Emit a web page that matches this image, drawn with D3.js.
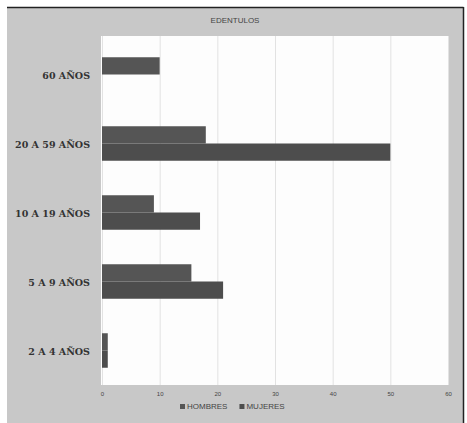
<!DOCTYPE html>
<html><head><meta charset="utf-8">
<script src="https://cdn.jsdelivr.net/npm/d3@7"></script>
<style>html,body{margin:0;padding:0;background:#fff;}svg{display:block;}</style>
</head><body>
<script>
const categories = ["60 AÑOS", "20 A 59 AÑOS", "10 A 19 AÑOS", "5 A 9 AÑOS", "2 A 4 AÑOS"];
const seriesNames = ["HOMBRES", "MUJERES"];
const hombres = [10, 18, 9, 15.5, 1];
const mujeres = [0, 50, 17, 21, 1];
const xTicks = [0, 10, 20, 30, 40, 50, 60];
const title = "EDENTULOS";

const W = 467, H = 423;
const svg = d3.select("body").append("svg").attr("width", W).attr("height", H);

// outer gray panel
svg.append("rect").attr("x", 7).attr("y", 7).attr("width", 456).attr("height", 416).attr("fill", "#c8c8c8");
svg.append("line").attr("x1", 7).attr("x2", 463.5).attr("y1", 7.5).attr("y2", 7.5).attr("stroke", "#222").attr("stroke-width", 1.5);
svg.append("line").attr("x1", 463.5).attr("x2", 463.5).attr("y1", 7).attr("y2", 423).attr("stroke", "#222").attr("stroke-width", 1.5);

const plot = {left: 102, right: 448, top: 36, bottom: 385};
svg.append("rect").attr("x", plot.left - 1).attr("y", plot.top).attr("width", plot.right - plot.left + 2).attr("height", plot.bottom - plot.top).attr("fill", "#fdfdfd");

const x = d3.scaleLinear().domain([0, 60]).range([plot.left, plot.right]);
const y = d3.scaleBand().domain(categories).range([plot.top + 4, plot.bottom]).paddingInner(0.5).paddingOuter(0.25);
const ySub = d3.scaleBand().domain(seriesNames).range([0, y.bandwidth()]);

// grid
svg.append("g").selectAll("line").data(xTicks).join("line")
  .attr("x1", d => x(d) + 0.5).attr("x2", d => x(d) + 0.5)
  .attr("y1", plot.top).attr("y2", plot.bottom)
  .attr("stroke", "#e2e2e2").attr("stroke-width", 1);

const colors = {HOMBRES: "#555555", MUJERES: "#4d4d4d"};
const data = categories.map((c, i) => ({cat: c, vals: [{s: "HOMBRES", v: hombres[i]}, {s: "MUJERES", v: mujeres[i]}]}));

const g = svg.append("g");
data.forEach(d => {
  g.selectAll(null).data(d.vals).join("rect")
    .attr("x", x(0))
    .attr("y", v => y(d.cat) + ySub(v.s))
    .attr("width", v => x(v.v) - x(0))
    .attr("height", ySub.bandwidth())
    .attr("fill", v => colors[v.s]);
});

// x axis labels
const xAxis = d3.axisBottom(x).tickValues(xTicks).tickSize(0).tickPadding(7);
const xa = svg.append("g").attr("transform", `translate(0,${plot.bottom})`).call(xAxis);
xa.select(".domain").remove();
xa.selectAll("text").attr("font-family", "Liberation Sans, sans-serif").attr("font-size", 6).attr("fill", "#444");

// y axis labels
const yAxis = d3.axisLeft(y).tickSize(0).tickPadding(12);
const ya = svg.append("g").attr("transform", `translate(${plot.left},0)`).call(yAxis);
ya.select(".domain").remove();
ya.selectAll("text").attr("font-family", "DejaVu Serif, serif").attr("font-weight", "bold").attr("font-size", 9.5).attr("fill", "#333").attr("dy", "0.45em");

// title
svg.append("text").attr("x", 235).attr("y", 23).attr("text-anchor", "middle")
  .attr("font-family", "Liberation Sans, sans-serif").attr("font-size", 8).attr("fill", "#444").text(title);

// legend
const leg = svg.append("g").attr("transform", "translate(180,409)");
let lx = 0;
seriesNames.forEach((s, i) => {
  leg.append("rect").attr("x", lx).attr("y", -5).attr("width", 5).attr("height", 5).attr("fill", colors[s]);
  const t = leg.append("text").attr("x", lx + 7).attr("y", 0).attr("font-family", "Liberation Sans, sans-serif")
    .attr("font-size", 8).attr("fill", "#444").text(s);
  lx += 7 + t.node().getComputedTextLength() + 12;
});
</script>
</body></html>
